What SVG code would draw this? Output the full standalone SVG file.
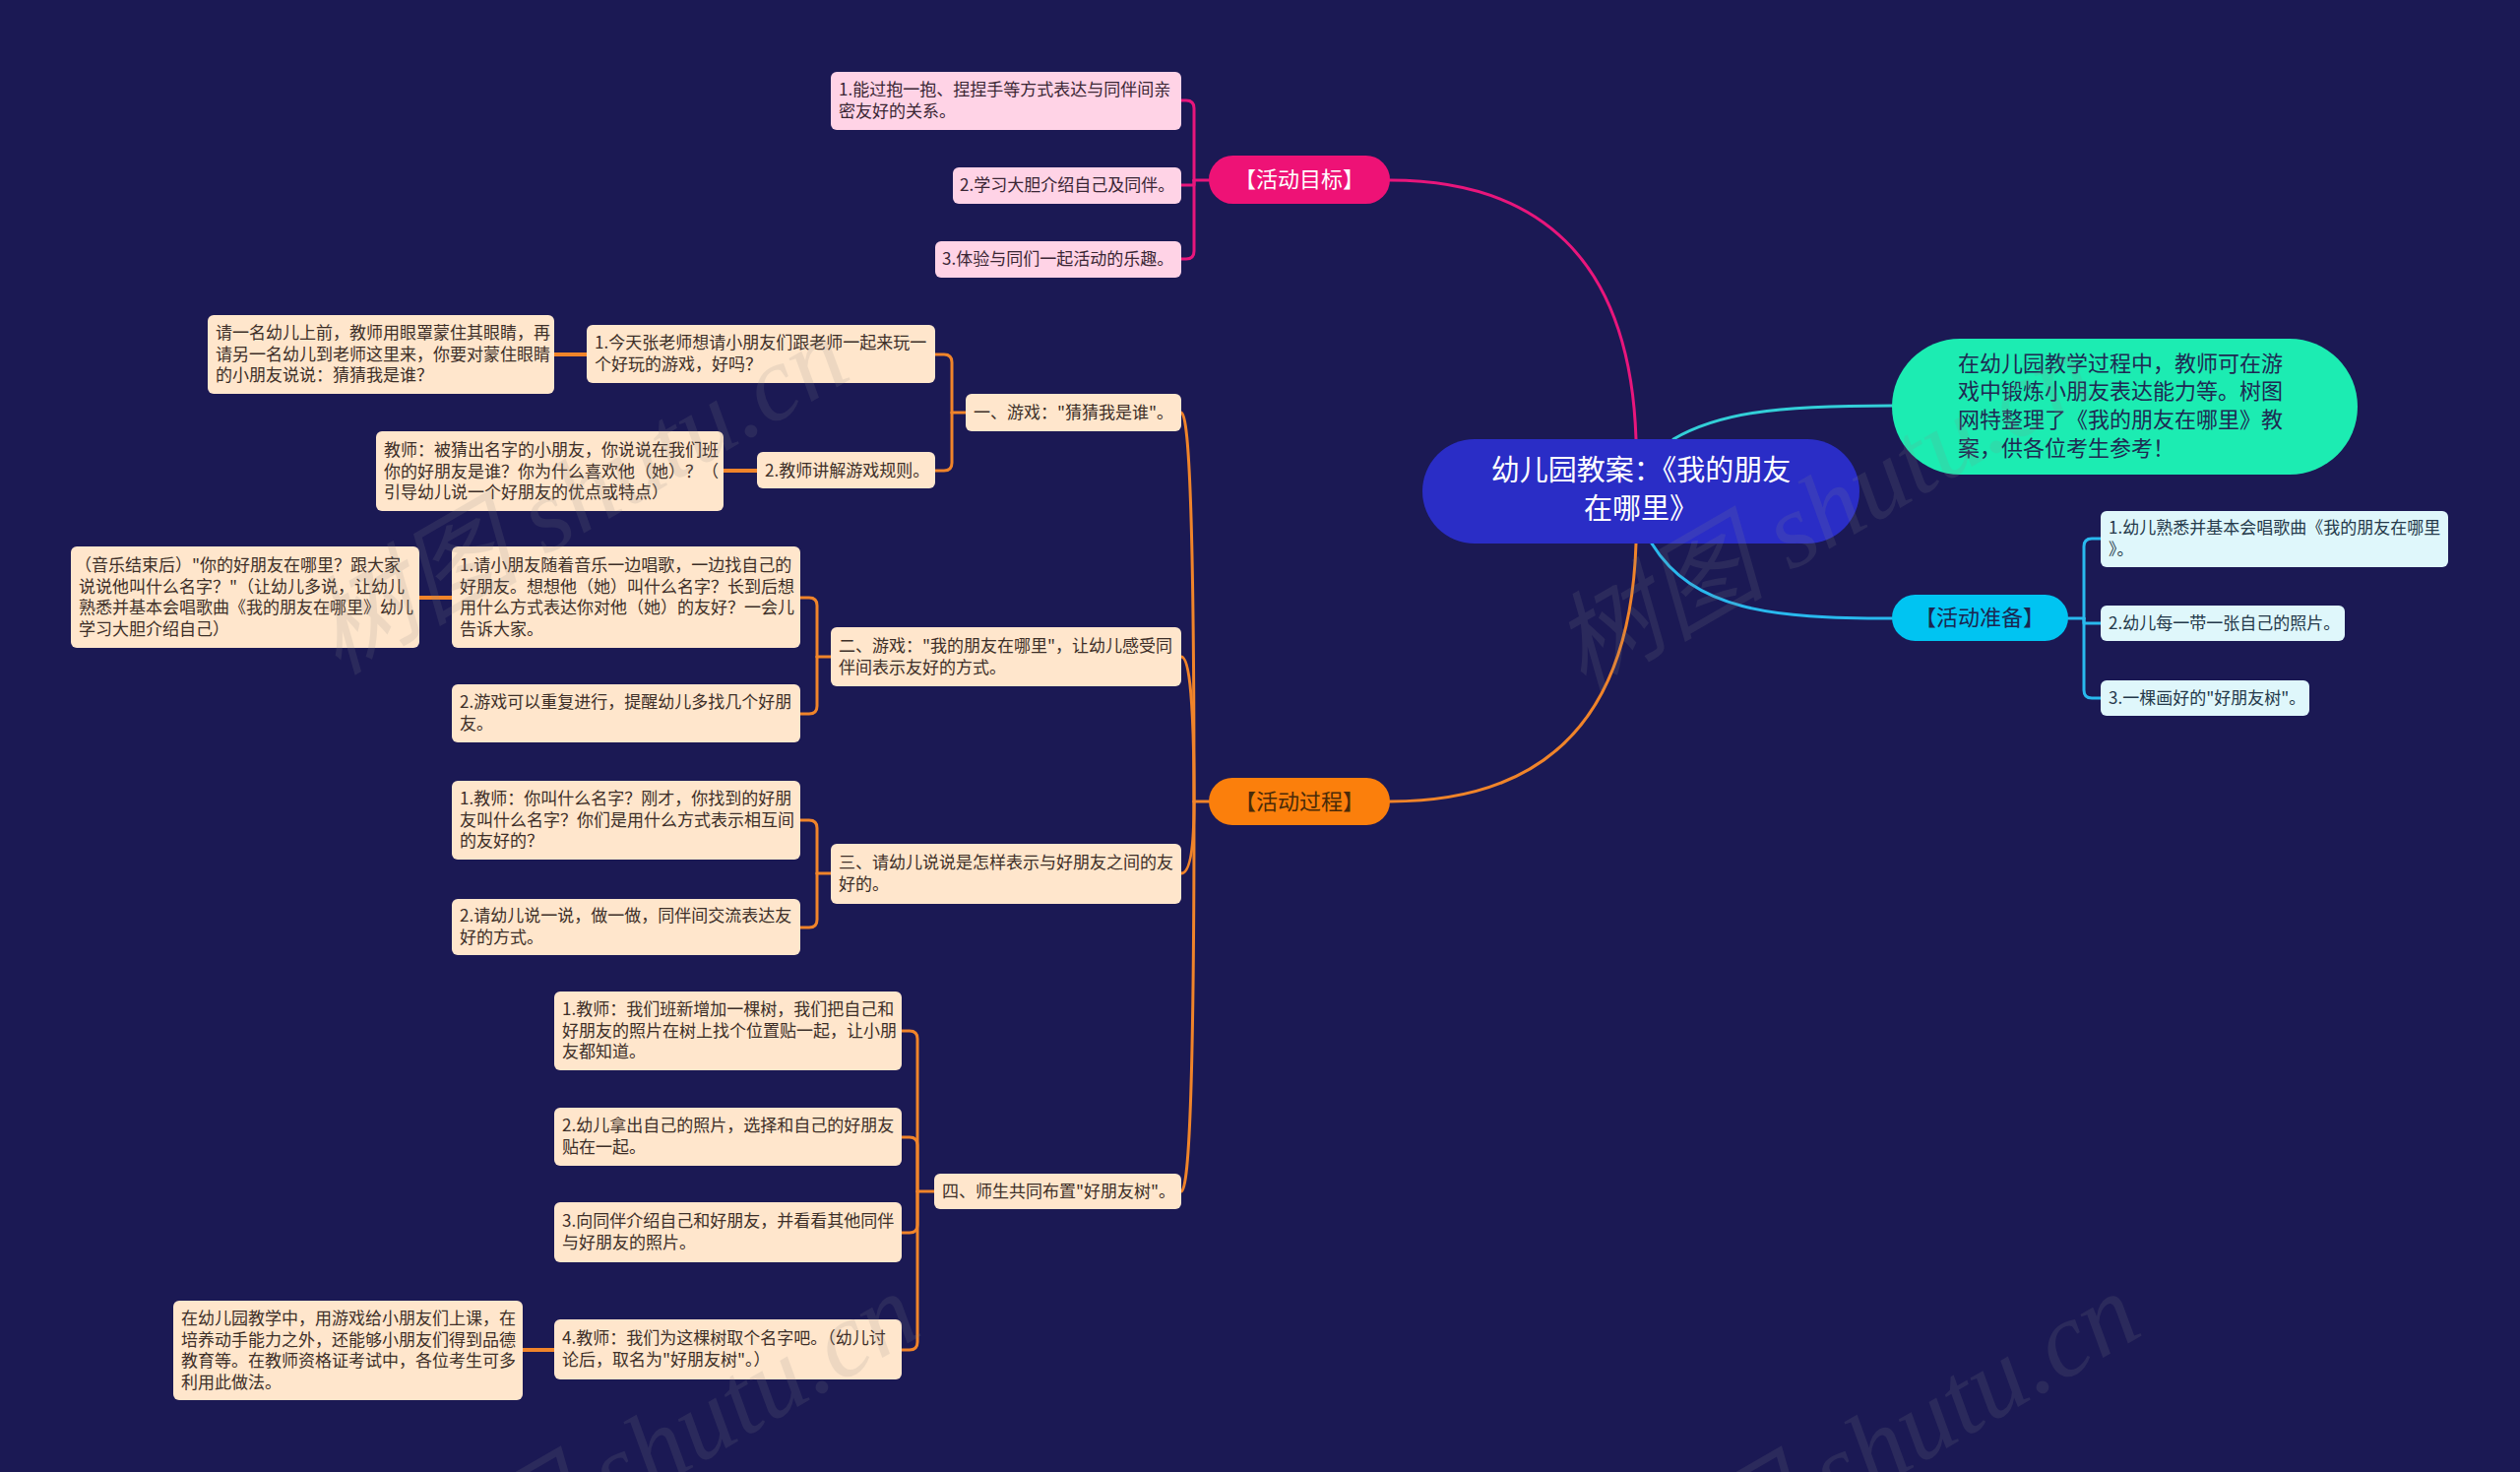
<svg xmlns="http://www.w3.org/2000/svg" width="2560" height="1495" viewBox="0 0 2560 1495">
<style>
text{font-family:"Noto Sans CJK SC","Noto Sans",sans-serif;}
.bg{fill:#1b1954;}
.leafP{fill:#ffd3e6;}
.leafC{fill:#dff7fb;}
.leafO{fill:#ffe6cc;}
.t17{font-size:17px;fill:#3d2f28;}
.t17p{font-size:17px;fill:#3a2634;}
.t17c{font-size:17px;fill:#24394a;}
.ln{fill:none;stroke-width:3;stroke-linecap:round;stroke-linejoin:round;}
.pk{stroke:#e8167c;}
.or{stroke:#f0842a;}
.cy{stroke:#33cfd8;}
.bl{stroke:#29b9ee;}
.wm{font-size:108px;fill:#8a8a8a;opacity:0.15;font-family:"Liberation Serif","Noto Sans CJK SC",serif;font-style:italic;}
</style>
<rect class="bg" x="0" y="0" width="2560" height="1495"/>

<g id="connectors">
  <path class="ln pk" d="M1662,446 C1656,260 1560,183 1412,183"/>
  <path class="ln or" d="M1662,552 C1656,740 1560,814 1412,814"/>
  <path class="ln cy" d="M1700,446 C1745,420 1800,412 1922,412"/>
  <path class="ln bl" d="M1678,552 C1720,620 1800,628 1922,628"/>
  <path class="ln pk" d="M1228,183 L1213,183"/>
  <path class="ln pk" d="M1213,183 L1213,110 Q1213,102 1205,102 L1200,102"/>
  <path class="ln pk" d="M1213,183 L1213,188 L1200,188"/>
  <path class="ln pk" d="M1213,183 L1213,255 Q1213,263 1205,263 L1200,263"/>
  <path class="ln bl" d="M2101,628 L2117,628"/>
  <path class="ln bl" d="M2117,628 L2117,555 Q2117,547 2125,547 L2134,547"/>
  <path class="ln bl" d="M2117,628 L2117,633 L2134,633"/>
  <path class="ln bl" d="M2117,628 L2117,701 Q2117,709 2125,709 L2134,709"/>
  <path class="ln or" d="M1228,814 L1213,814"/>
  <path class="ln or" d="M1213,814 Q1213,419 1200,419"/>
  <path class="ln or" d="M1213,814 Q1213,667 1200,667"/>
  <path class="ln or" d="M1213,814 Q1213,887 1200,887"/>
  <path class="ln or" d="M1213,814 Q1213,1210 1200,1210"/>
  <path class="ln or" d="M981,419 L967,419"/>
  <path class="ln or" d="M967,419 L967,368 Q967,360 959,360 L950,360"/>
  <path class="ln or" d="M967,419 L967,470 Q967,478 959,478 L950,478"/>
  <path class="ln or" d="M844,667 L830,667"/>
  <path class="ln or" d="M830,667 L830,615 Q830,607 822,607 L813,607"/>
  <path class="ln or" d="M830,667 L830,717 Q830,725 822,725 L813,725"/>
  <path class="ln or" d="M844,887 L830,887"/>
  <path class="ln or" d="M830,887 L830,841 Q830,833 822,833 L813,833"/>
  <path class="ln or" d="M830,887 L830,934 Q830,942 822,942 L813,942"/>
  <path class="ln or" d="M949,1210 L932,1210"/>
  <path class="ln or" d="M932,1210 L932,1055 Q932,1047 924,1047 L916,1047"/>
  <path class="ln or" d="M932,1210 L932,1163 Q932,1155 924,1155 L916,1155"/>
  <path class="ln or" d="M932,1210 L932,1244 Q932,1252 924,1252 L916,1252"/>
  <path class="ln or" d="M932,1210 L932,1363 Q932,1371 924,1371 L916,1371"/>
  <path class="ln or" style="stroke-width:4" d="M596,360 L563,360"/>
  <path class="ln or" style="stroke-width:4" d="M769,478 L735,478"/>
  <path class="ln or" style="stroke-width:4" d="M459,607 L426,607"/>
  <path class="ln or" style="stroke-width:4" d="M563,1371 L531,1371"/>
</g>

<g id="root">
  <rect x="1445" y="446" width="444" height="106" rx="53" fill="#2a2dc6"/>
  <text x="1667" y="488" font-size="29" fill="#ffffff" text-anchor="middle">幼儿园教案：《我的朋友</text>
  <text x="1667" y="527" font-size="29" fill="#ffffff" text-anchor="middle">在哪里》</text>
</g>

<g id="summary">
  <rect x="1922" y="344" width="473" height="138" rx="69" fill="#1cecb2"/>
  <text x="1989" y="377" font-size="22" fill="#1e2a52">在幼儿园教学过程中，教师可在游</text>
  <text x="1989" y="405" font-size="22" fill="#1e2a52">戏中锻炼小朋友表达能力等。树图</text>
  <text x="1989" y="434" font-size="22" fill="#1e2a52">网特整理了《我的朋友在哪里》教</text>
  <text x="1989" y="463" font-size="22" fill="#1e2a52">案，供各位考生参考！</text>
</g>

<g id="goal">
  <rect x="1228" y="158" width="184" height="49" rx="24.5" fill="#ee1276"/>
  <text x="1320" y="190" font-size="22" fill="#ffffff" text-anchor="middle">【活动目标】</text>
</g>
<g id="goal-1">
  <rect class="leafP" x="844" y="73" width="356" height="59" rx="6"/>
  <text class="t17p" x="852" y="97">1.能过抱一抱、捏捏手等方式表达与同伴间亲</text>
  <text class="t17p" x="852" y="119">密友好的关系。</text>
</g>
<g id="goal-2">
  <rect class="leafP" x="968" y="170" width="232" height="37" rx="6"/>
  <text class="t17p" x="975" y="194">2.学习大胆介绍自己及同伴。</text>
</g>
<g id="goal-3">
  <rect class="leafP" x="950" y="245" width="250" height="37" rx="6"/>
  <text class="t17p" x="957" y="269">3.体验与同们一起活动的乐趣。</text>
</g>

<g id="prep">
  <rect x="1922" y="604" width="179" height="47" rx="23.5" fill="#00c4f2"/>
  <text x="2011" y="635" font-size="22" fill="#1b2650" text-anchor="middle">【活动准备】</text>
</g>
<g id="prep-1">
  <rect class="leafC" x="2134" y="519" width="353" height="57" rx="6"/>
  <text class="t17c" x="2142" y="542">1.幼儿熟悉并基本会唱歌曲《我的朋友在哪里</text>
  <text class="t17c" x="2142" y="564">》。</text>
</g>
<g id="prep-2">
  <rect class="leafC" x="2134" y="615" width="248" height="36" rx="6"/>
  <text class="t17c" x="2142" y="639">2.幼儿每一带一张自己的照片。</text>
</g>
<g id="prep-3">
  <rect class="leafC" x="2134" y="691" width="212" height="36" rx="6"/>
  <text class="t17c" x="2142" y="715">3.一棵画好的"好朋友树"。</text>
</g>

<g id="process">
  <rect x="1228" y="790" width="184" height="48" rx="24" fill="#fb7f0c"/>
  <text x="1320" y="822" font-size="22" fill="#4a2a08" text-anchor="middle">【活动过程】</text>
</g>

<g id="p1">
  <rect class="leafO" x="981" y="400" width="219" height="38" rx="6"/>
  <text class="t17" x="989" y="425">一、游戏："猜猜我是谁"。</text>
</g>
<g id="p1-1">
  <rect class="leafO" x="596" y="330" width="354" height="59" rx="6"/>
  <text class="t17" x="604" y="354">1.今天张老师想请小朋友们跟老师一起来玩一</text>
  <text class="t17" x="604" y="376">个好玩的游戏，好吗？</text>
</g>
<g id="p1-1-a">
  <rect class="leafO" x="211" y="320" width="352" height="80" rx="6"/>
  <text class="t17" x="219" y="344">请一名幼儿上前，教师用眼罩蒙住其眼睛，再</text>
  <text class="t17" x="219" y="366">请另一名幼儿到老师这里来，你要对蒙住眼睛</text>
  <text class="t17" x="219" y="387">的小朋友说说：猜猜我是谁？</text>
</g>
<g id="p1-2">
  <rect class="leafO" x="769" y="459" width="181" height="37" rx="6"/>
  <text class="t17" x="777" y="484">2.教师讲解游戏规则。</text>
</g>
<g id="p1-2-a">
  <rect class="leafO" x="382" y="438" width="353" height="81" rx="6"/>
  <text class="t17" x="390" y="463">教师：被猜出名字的小朋友，你说说在我们班</text>
  <text class="t17" x="390" y="485">你的好朋友是谁？你为什么喜欢他（她）？（</text>
  <text class="t17" x="390" y="506">引导幼儿说一个好朋友的优点或特点）</text>
</g>

<g id="p2">
  <rect class="leafO" x="844" y="637" width="356" height="60" rx="6"/>
  <text class="t17" x="852" y="662">二、游戏："我的朋友在哪里"，让幼儿感受同</text>
  <text class="t17" x="852" y="684">伴间表示友好的方式。</text>
</g>
<g id="p2-1">
  <rect class="leafO" x="459" y="555" width="354" height="103" rx="6"/>
  <text class="t17" x="467" y="580">1.请小朋友随着音乐一边唱歌，一边找自己的</text>
  <text class="t17" x="467" y="602">好朋友。想想他（她）叫什么名字？长到后想</text>
  <text class="t17" x="467" y="623">用什么方式表达你对他（她）的友好？一会儿</text>
  <text class="t17" x="467" y="645">告诉大家。</text>
</g>
<g id="p2-1-a">
  <rect class="leafO" x="72" y="555" width="354" height="103" rx="6"/>
  <text class="t17" x="76" y="580">（音乐结束后）"你的好朋友在哪里？跟大家</text>
  <text class="t17" x="80" y="602">说说他叫什么名字？"（让幼儿多说，让幼儿</text>
  <text class="t17" x="80" y="623">熟悉并基本会唱歌曲《我的朋友在哪里》幼儿</text>
  <text class="t17" x="80" y="645">学习大胆介绍自己）</text>
</g>
<g id="p2-2">
  <rect class="leafO" x="459" y="695" width="354" height="59" rx="6"/>
  <text class="t17" x="467" y="719">2.游戏可以重复进行，提醒幼儿多找几个好朋</text>
  <text class="t17" x="467" y="741">友。</text>
</g>

<g id="p3">
  <rect class="leafO" x="844" y="857" width="356" height="61" rx="6"/>
  <text class="t17" x="852" y="882">三、请幼儿说说是怎样表示与好朋友之间的友</text>
  <text class="t17" x="852" y="904">好的。</text>
</g>
<g id="p3-1">
  <rect class="leafO" x="459" y="793" width="354" height="80" rx="6"/>
  <text class="t17" x="467" y="817">1.教师：你叫什么名字？刚才，你找到的好朋</text>
  <text class="t17" x="467" y="839">友叫什么名字？你们是用什么方式表示相互间</text>
  <text class="t17" x="467" y="860">的友好的？</text>
</g>
<g id="p3-2">
  <rect class="leafO" x="459" y="913" width="354" height="57" rx="6"/>
  <text class="t17" x="467" y="936">2.请幼儿说一说，做一做，同伴间交流表达友</text>
  <text class="t17" x="467" y="958">好的方式。</text>
</g>

<g id="p4">
  <rect class="leafO" x="949" y="1192" width="251" height="36" rx="6"/>
  <text class="t17" x="957" y="1216">四、师生共同布置"好朋友树"。</text>
</g>
<g id="p4-1">
  <rect class="leafO" x="563" y="1007" width="353" height="80" rx="6"/>
  <text class="t17" x="571" y="1031">1.教师：我们班新增加一棵树，我们把自己和</text>
  <text class="t17" x="571" y="1053">好朋友的照片在树上找个位置贴一起，让小朋</text>
  <text class="t17" x="571" y="1074">友都知道。</text>
</g>
<g id="p4-2">
  <rect class="leafO" x="563" y="1125" width="353" height="59" rx="6"/>
  <text class="t17" x="571" y="1149">2.幼儿拿出自己的照片，选择和自己的好朋友</text>
  <text class="t17" x="571" y="1171">贴在一起。</text>
</g>
<g id="p4-3">
  <rect class="leafO" x="563" y="1221" width="353" height="61" rx="6"/>
  <text class="t17" x="571" y="1246">3.向同伴介绍自己和好朋友，并看看其他同伴</text>
  <text class="t17" x="571" y="1268">与好朋友的照片。</text>
</g>
<g id="p4-4">
  <rect class="leafO" x="563" y="1340" width="353" height="61" rx="6"/>
  <text class="t17" x="571" y="1365">4.教师：我们为这棵树取个名字吧。（幼儿讨</text>
  <text class="t17" x="571" y="1387">论后，取名为"好朋友树"。）</text>
</g>
<g id="p4-4-a">
  <rect class="leafO" x="176" y="1321" width="355" height="101" rx="6"/>
  <text class="t17" x="184" y="1345">在幼儿园教学中，用游戏给小朋友们上课，在</text>
  <text class="t17" x="184" y="1367">培养动手能力之外，还能够小朋友们得到品德</text>
  <text class="t17" x="184" y="1388">教育等。在教师资格证考试中，各位考生可多</text>
  <text class="t17" x="184" y="1410">利用此做法。</text>
</g>

<g id="watermarks">
  <text class="wm" x="343" y="686" transform="rotate(-30 343 686)">树图 shutu.cn</text>
  <text class="wm" x="1608" y="702" transform="rotate(-30 1608 702)">树图 shutu.cn</text>
  <text class="wm" x="415" y="1657" transform="rotate(-30 415 1657)">树图 shutu.cn</text>
  <text class="wm" x="1655" y="1657" transform="rotate(-30 1655 1657)">树图 shutu.cn</text>
</g>
</svg>
